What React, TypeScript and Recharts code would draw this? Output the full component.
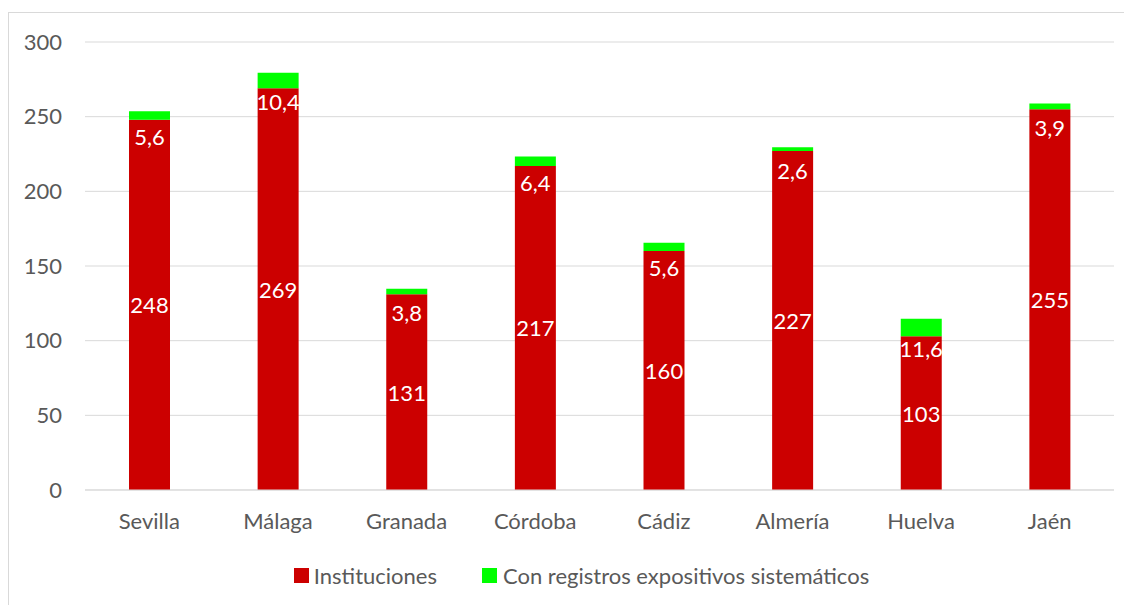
import React from 'react';
import { BarChart, Bar, XAxis, YAxis, CartesianGrid, Legend, LabelList } from 'recharts';

const provinces = ['Sevilla', 'Málaga', 'Granada', 'Córdoba', 'Cádiz', 'Almería', 'Huelva', 'Jaén'];
const instituciones = [248, 269, 131, 217, 160, 227, 103, 255];
const conRegistros = [5.6, 10.4, 3.8, 6.4, 5.6, 2.6, 11.6, 3.9];
const yTicks = [0, 50, 100, 150, 200, 250, 300];

const RED = '#CC0000';
const GREEN = '#00FF00';
const TEXT = '#595959';
const GRID = '#D9D9D9';
const FONT = 'Lato, "Open Sans", sans-serif';

const data = provinces.map((p, i) => ({
  name: p,
  inst: instituciones[i],
  reg: conRegistros[i],
}));

const fmt = (v: number) => String(v).replace('.', ',');

// green labels sit a bit below the green segment (as in the original)
const GreenLabel = (props: any) => {
  const { x, y, width, height, value } = props;
  return (
    <text x={x + width / 2} y={y + height / 2 + 21} fill="#fff" fontSize={22} fontFamily={FONT}
      textAnchor="middle" dominantBaseline="central">
      {fmt(value)}
    </text>
  );
};

const RedLabel = (props: any) => {
  const { x, y, width, height, value } = props;
  return (
    <text x={x + width / 2} y={y + height / 2} fill="#fff" fontSize={22} fontFamily={FONT}
      textAnchor="middle" dominantBaseline="central">
      {fmt(value)}
    </text>
  );
};

const LegendBox = () => (
  <div style={{ display: 'flex', justifyContent: 'center', alignItems: 'center', height: 28, marginLeft: 40, fontFamily: FONT, fontSize: 22, color: TEXT }}>
    <span style={{ display: 'inline-block', width: 15, height: 15, background: RED, marginRight: 5 }} />
    <span style={{ marginRight: 45 }}>Instituciones</span>
    <span style={{ display: 'inline-block', width: 15, height: 15, background: GREEN, marginRight: 6 }} />
    <span>Con registros expositivos sistemáticos</span>
  </div>
);

export default function App() {
  return (
    <div style={{ paddingTop: 4 }}>
      <div style={{ width: 1124, height: 593, borderTop: `1px solid ${GRID}`, borderLeft: `1px solid ${GRID}`, background: '#fff' }}>
        <BarChart width={1123} height={592} data={data} margin={{ top: 29, right: 18, left: 0, bottom: 16 }}>
          <CartesianGrid vertical={false} stroke={GRID} />
          <XAxis dataKey="name" height={71} tickSize={0} tickMargin={23} axisLine={{ stroke: GRID }}
            tick={{ fill: TEXT, fontSize: 22, fontFamily: FONT }} />
          <YAxis width={76} domain={[0, 300]} ticks={yTicks} tickSize={0} tickMargin={23} axisLine={false}
            tick={{ fill: TEXT, fontSize: 22, fontFamily: FONT }} />
          <Legend verticalAlign="bottom" height={28} content={<LegendBox />} />
          <Bar dataKey="inst" stackId="a" fill={RED} barSize={41} isAnimationActive={false}>
            <LabelList dataKey="inst" content={RedLabel} />
          </Bar>
          <Bar dataKey="reg" stackId="a" fill={GREEN} barSize={41} isAnimationActive={false}>
            <LabelList dataKey="reg" content={GreenLabel} />
          </Bar>
        </BarChart>
      </div>
    </div>
  );
}
